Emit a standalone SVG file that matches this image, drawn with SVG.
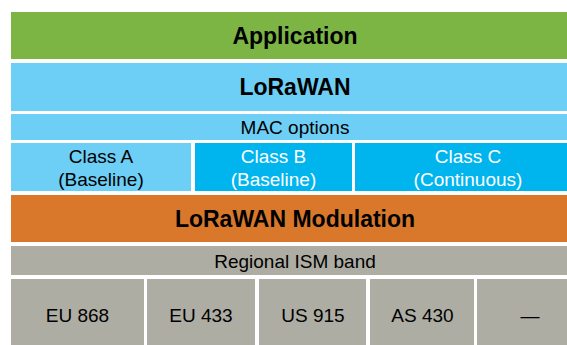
<svg xmlns="http://www.w3.org/2000/svg" width="567" height="345" viewBox="0 0 567 345">
<style>
text{font-family:"Liberation Sans",Arial,sans-serif;text-anchor:middle;fill:#000}
.b{font-weight:bold;font-size:23px}
.r{font-size:19px}
.w{fill:#fff}
</style>
<rect width="567" height="345" fill="#fff"/>
<g id="application"><rect x="11" y="12" width="570" height="47" fill="#7cb544"/><text class="b" x="295" y="44">Application</text></g>
<g id="lorawan"><rect x="11" y="63" width="570" height="48" fill="#6dcff6"/><text class="b" x="295" y="95">LoRaWAN</text></g>
<g id="mac"><rect x="11" y="114" width="570" height="26" fill="#6dcff6"/><text class="r" x="295" y="133.5">MAC options</text></g>
<g id="classA"><rect x="11" y="143" width="180" height="48" fill="#6dcff6"/><text class="r" x="101" y="163">Class A</text><text class="r" x="101" y="186">(Baseline)</text></g>
<g id="classB"><rect x="195" y="143" width="157" height="48" fill="#00b5ee"/><text class="r w" x="273.5" y="163">Class B</text><text class="r w" x="273.5" y="186">(Baseline)</text></g>
<g id="classC"><rect x="355" y="143" width="226" height="48" fill="#00b5ee"/><text class="r w" x="468" y="163">Class C</text><text class="r w" x="468" y="186">(Continuous)</text></g>
<g id="modulation"><rect x="11" y="195" width="570" height="47" fill="#d9782b"/><text class="b" x="295" y="227">LoRaWAN Modulation</text></g>
<g id="ism"><rect x="11" y="246" width="570" height="29" fill="#adada3"/><text class="r" x="295" y="268">Regional ISM band</text></g>
<g id="eu868"><rect x="11" y="279" width="133" height="66" fill="#adada3"/><text class="r" x="77.5" y="322">EU 868</text></g>
<g id="eu433"><rect x="147" y="279" width="108" height="66" fill="#adada3"/><text class="r" x="201" y="322">EU 433</text></g>
<g id="us915"><rect x="259" y="279" width="107" height="66" fill="#adada3"/><text class="r" x="313" y="322">US 915</text></g>
<g id="as430"><rect x="370" y="279" width="104" height="66" fill="#adada3"/><text class="r" x="422.5" y="322">AS 430</text></g>
<g id="other"><rect x="477" y="279" width="106" height="66" fill="#adada3"/><text class="r" x="530" y="322">—</text></g>
<g id="connectors"/>
</svg>
